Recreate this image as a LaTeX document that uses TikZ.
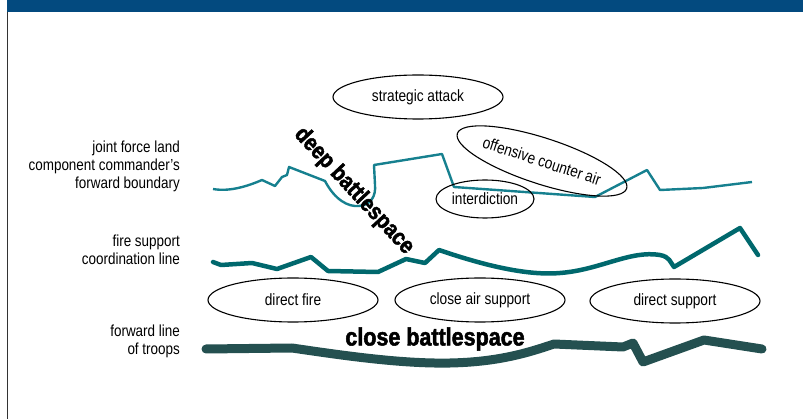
\documentclass[tikz,border=0pt]{standalone}
\usepackage{fontspec}
\setmainfont{Liberation Sans}[FakeStretch=0.84]
\newfontfamily\heavyfont{Liberation Sans}[FakeStretch=0.86,FakeBold=2,UprightFont=*-Bold]
\usetikzlibrary{shapes.geometric}
\definecolor{hdrblue}{HTML}{034A7F}
\definecolor{jflccteal}{HTML}{16808F}
\definecolor{fsclteal}{HTML}{00686D}
\definecolor{flotgreen}{HTML}{245050}
\tikzset{
  lbl/.style={anchor=east,align=right,font=\fontsize{16}{18}\selectfont,inner sep=0pt},
  ell/.style={ellipse,draw=black,line width=1.1pt,inner sep=0pt,font=\fontsize{16.3}{18}\selectfont},
  jflccline/.style={draw=jflccteal,line width=2.4pt,line join=round},
  fsclline/.style={draw=fsclteal,line width=4.5pt,line join=round,line cap=round},
  flotline/.style={draw=flotgreen,line width=9pt,line join=round,line cap=round},
  zone/.style={font=\heavyfont\fontsize{23.5}{25}\selectfont,inner sep=0pt}
}
\begin{document}
\begin{tikzpicture}[x=1pt,y=-1pt]
\useasboundingbox (0,0) rectangle (803,419);
% header bar and frame
\fill[hdrblue] (7,0) rectangle (803,12);
\draw[line width=1pt,black!80] (7,12) -- (7,419);

% left labels
\node[lbl] (jflccl) at (180,166) {joint force land\\component commander's\\forward boundary};
\node[lbl] (fscll) at (180,250) {fire support\\coordination line};
\node[lbl] (flotl) at (180,341) {forward line\\of troops};

% joint force land component commander's forward boundary
\draw[jflccline] (213,189) .. controls (230,192) and (248,186) .. (262,180)
  -- (275,186) -- (282,177) -- (287,175) -- (289,167) -- (325,181)
  .. controls (335,200) and (348,207) .. (359,206)
  .. controls (371,205) and (376,196) .. (375,185)
  -- (374,165) -- (442,154) -- (454,187) -- (595,197) -- (647,170)
  -- (660,190) -- (703,188) -- (752,182);

% fire support coordination line
\draw[fsclline] (213,262) -- (221,265) -- (252,263) -- (277,269) -- (311,257)
  -- (328,271) -- (378,272) -- (406,259) -- (425,263) -- (439,250)
  .. controls (480,264) and (525,276) .. (560,273)
  .. controls (600,270) and (630,250) .. (660,255)
  .. controls (670,257) and (670,262) .. (674,267)
  -- (740,228) -- (758,255);

% forward line of troops
\draw[flotline] (206,349) -- (292,348)
  .. controls (340,355) and (400,364) .. (450,363)
  .. controls (500,362) and (530,352) .. (554,344)
  -- (623,347) -- (633,343) -- (643,362) -- (704,340) -- (762,349);

% ellipses
\node[ell,minimum width=170,minimum height=44] (sa) at (418,97) {strategic attack};
\node[ell,minimum width=178,minimum height=46,rotate=-18] (oca) at (542,161) {offensive counter air};
\node[ell,minimum width=98,minimum height=38] (int) at (485,199) {interdiction};
\node[ell,minimum width=170,minimum height=44] (df) at (293,300) {direct fire};
\node[ell,minimum width=170,minimum height=44] (cas) at (480,300) {close air support};
\node[ell,minimum width=170,minimum height=44] (ds) at (675,301) {direct support};

% zone names
\node[zone,rotate=-47] (deep) at (354,191) {deep battlespace};
\node[zone,font=\heavyfont\fontsize{25}{27}\selectfont] (close) at (435,339) {close battlespace};
\end{tikzpicture}
\end{document}
